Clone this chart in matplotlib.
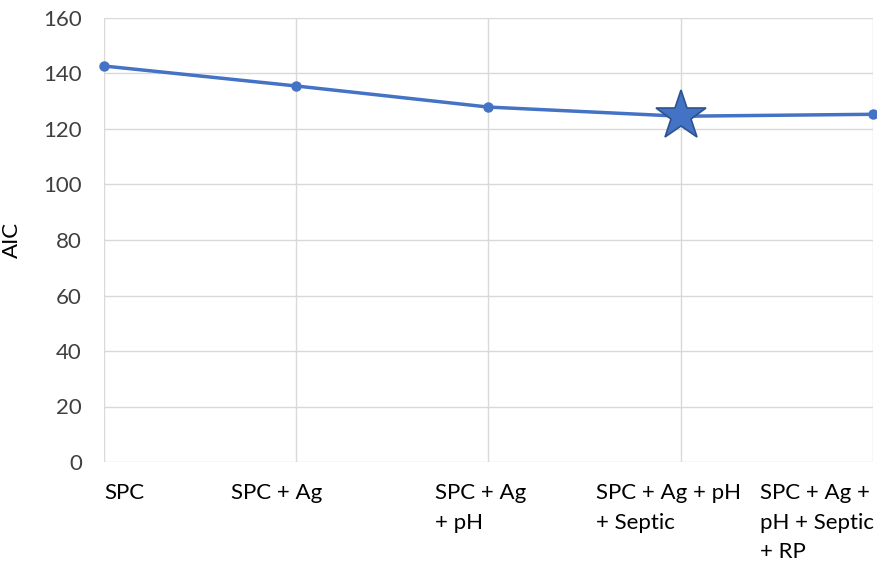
import matplotlib.pyplot as plt

# modelos e valores de AIC
modelos = ["SPC", "SPC + Ag", "SPC + Ag\n+ pH", "SPC + Ag + pH\n+ Septic",
           "SPC + Ag +\npH + Septic\n+ RP"]
aic = [142.7, 135.5, 127.9, 124.6, 125.3]
melhor = 3  # modelo marcado com estrela
y_ticks = [0, 20, 40, 60, 80, 100, 120, 140, 160]
# deslocamento horizontal dos rotulos (px, relativo ao tick)
desloc_rotulos = [0, -65, -53, -85, -113]

azul = "#4472C4"
cinza = "#D9D9D9"
texto = "#404040"

plt.rcParams['font.family'] = ['Lato', 'DejaVu Sans']

fig = plt.figure(figsize=(8.78, 5.62), dpi=100)
ax = fig.add_axes([104/878, 100/562, 769/878, 444/562])

x = list(range(len(modelos)))
ax.plot(x, aic, '-', color=azul, lw=2.5, marker='o', ms=6.5, zorder=3, clip_on=False)
ax.plot(x[melhor], aic[melhor], marker='*', ms=38, color=azul,
        markeredgecolor="#2F528F", markeredgewidth=1.2, zorder=4)

ax.set_xlim(0, len(modelos) - 1)
ax.set_ylim(0, 160)
ax.set_yticks(y_ticks)
ax.set_xticks(x)
ax.set_xticklabels([])
for xi, nome, dx in zip(x, modelos, desloc_rotulos):
    ax.annotate(nome, xy=(xi, 0), xycoords=('data', 'axes fraction'),
                xytext=(dx, -21), textcoords='offset pixels',
                ha='left', va='top', fontsize=16, linespacing=1.6,
                color='black', annotation_clip=False)

ax.grid(True, color=cinza, lw=1)
ax.set_axisbelow(True)
for s in ax.spines.values():
    s.set_visible(False)
ax.tick_params(length=0, labelsize=16, colors=texto)
ax.tick_params(axis='y', pad=16)
ax.set_ylabel("AIC", fontsize=16, color='black')
ax.yaxis.set_label_coords(-0.107, 0.5)

fig.savefig("out.png", dpi=100)
